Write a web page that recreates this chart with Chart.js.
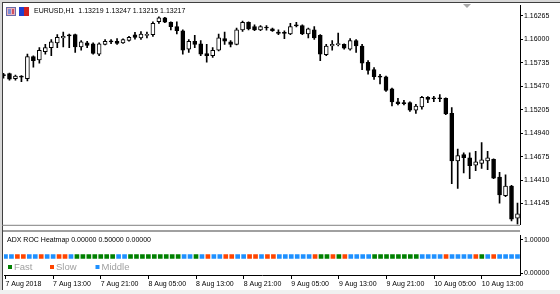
<!DOCTYPE html>
<html>
<head>
<meta charset="utf-8">
<script src="https://cdn.jsdelivr.net/npm/chart.js@4.4.0/dist/chart.umd.min.js"></script>
<style>
  html, body { margin: 0; padding: 0; background: #fff; }
  #wrap { position: relative; width: 560px; height: 294px; overflow: hidden; }
  canvas { position: absolute; left: 0; }
</style>
</head>
<body>
<div id="wrap">
  <canvas id="priceChart" width="560" height="230" style="top:0"></canvas>
  <canvas id="heatChart" width="560" height="64" style="top:230px"></canvas>
</div>
<script>
// EURUSD H1, 87 bars from 7 Aug 2018 05:00
const symbolTitle = 'EURUSD,H1  1.13219 1.13247 1.13215 1.13217';
const heatTitle = 'ADX ROC Heatmap 0.00000 0.50000 0.00000';

const opens = [1.15601,1.15612,1.15555,1.15584,1.15555,1.15804,1.15768,1.15862,1.15906,1.15961,
  1.16016,1.16045,1.16053,1.15914,1.15961,1.15950,1.15833,1.15943,1.15983,1.15979,
  1.15961,1.15987,1.16051,1.16016,1.16045,1.16053,1.16199,1.16243,1.16191,1.16144,
  1.16097,1.15888,1.15979,1.15950,1.15840,1.15815,1.15877,1.16009,1.15972,1.15943,
  1.16108,1.16191,1.16144,1.16108,1.16139,1.16119,1.16082,1.16075,1.16060,1.16158,
  1.16155,1.16060,1.16108,1.16045,1.15826,1.15925,1.15940,1.15943,1.15888,1.15987,
  1.15925,1.15741,1.15658,1.15581,1.15577,1.15441,1.15295,1.15280,1.15284,1.15200,
  1.15236,1.15346,1.15335,1.15335,1.15332,1.15164,1.14626,1.14698,1.14662,1.14577,
  1.14599,1.14626,1.14643,1.14442,1.14234,1.14343,1.13978];
const highs = [1.15617,1.15620,1.15595,1.15590,1.15833,1.15815,1.15906,1.15943,1.15998,1.16053,
  1.16082,1.16060,1.16060,1.15987,1.15979,1.15961,1.15961,1.15998,1.15998,1.16009,
  1.16005,1.16034,1.16078,1.16089,1.16082,1.16199,1.16254,1.16249,1.16199,1.16199,
  1.16108,1.15998,1.16045,1.15987,1.15943,1.15906,1.16060,1.16082,1.15987,1.16126,
  1.16207,1.16199,1.16163,1.16155,1.16155,1.16126,1.16108,1.16097,1.16180,1.16191,
  1.16163,1.16126,1.16144,1.16053,1.15943,1.15987,1.16071,1.15950,1.16009,1.15998,
  1.15943,1.15760,1.15680,1.15606,1.15584,1.15449,1.15332,1.15310,1.15295,1.15266,
  1.15357,1.15354,1.15357,1.15376,1.15339,1.15230,1.14761,1.14717,1.14717,1.14735,
  1.14834,1.14735,1.14651,1.14497,1.14468,1.14351,1.14149];
const lows = [1.15562,1.15540,1.15540,1.15522,1.15529,1.15686,1.15730,1.15833,1.15815,1.15906,
  1.15914,1.15906,1.15851,1.15877,1.15906,1.15833,1.15815,1.15936,1.15950,1.15943,
  1.15954,1.15979,1.16001,1.15998,1.16016,1.16034,1.16180,1.16188,1.16108,1.16060,
  1.15833,1.15851,1.15906,1.15815,1.15741,1.15796,1.15870,1.15943,1.15914,1.15936,
  1.16089,1.16108,1.16097,1.16097,1.16104,1.16089,1.16053,1.16009,1.16053,1.16141,
  1.16053,1.16016,1.15998,1.15760,1.15815,1.15877,1.15925,1.15888,1.15877,1.15851,
  1.15658,1.15606,1.15548,1.15496,1.15412,1.15247,1.15258,1.15258,1.15186,1.15164,
  1.15211,1.15284,1.15295,1.15295,1.15148,1.14369,1.14314,1.14489,1.14424,1.14516,
  1.14541,1.14527,1.14425,1.14149,1.14223,1.13948,1.13912];
const closes = [1.15590,1.15551,1.15584,1.15573,1.15804,1.15760,1.15877,1.15906,1.15972,1.16023,
  1.16034,1.16039,1.15914,1.15972,1.15932,1.15840,1.15950,1.15979,1.15972,1.15954,
  1.15998,1.16023,1.16023,1.16060,1.16056,1.16180,1.16243,1.16194,1.16144,1.16097,
  1.15877,1.15979,1.15943,1.15833,1.15815,1.15877,1.16016,1.15979,1.15943,1.16108,
  1.16191,1.16119,1.16108,1.16144,1.16128,1.16097,1.16067,1.16067,1.16144,1.16152,
  1.16060,1.16119,1.16016,1.15833,1.15925,1.15943,1.15947,1.15899,1.15987,1.15925,
  1.15730,1.15650,1.15577,1.15573,1.15423,1.15293,1.15273,1.15273,1.15200,1.15247,
  1.15346,1.15321,1.15329,1.15329,1.15156,1.14626,1.14687,1.14662,1.14571,1.14615,
  1.14637,1.14662,1.14431,1.14241,1.14343,1.13967,1.14028];

const priceTicks = [1.16265, 1.16000, 1.15735, 1.15470, 1.15205, 1.14940, 1.14675, 1.14410, 1.14145];
const timeLabels = ['7 Aug 2018', '7 Aug 13:00', '7 Aug 21:00', '8 Aug 05:00', '8 Aug 13:00', '8 Aug 21:00',
  '9 Aug 05:00', '9 Aug 13:00', '9 Aug 21:00', '10 Aug 05:00', '10 Aug 13:00'];
const barsPerTimeLabel = 8;

// F = Fast, S = Slow, M = Middle
const heatStates = ['M','M','S','S','M','M','S','M','M','S',
  'S','M','F','F','F','F','F','F','F','M',
  'M','F','F','F','F','F','F','F','F','F',
  'M','M','F','M','S','M','M','S','S','M',
  'M','S','S','M','S','S','M','M','M','M',
  'M','M','S','F','F','S','F','S','M','M',
  'M','M','F','F','F','F','F','F','F','F',
  'M','M','M','M','S','M','M','M','M','S',
  'F','M','S','M','M','M','M'];
const heatLevel = 0.5;
const heatTicks = [0, 1];

Chart.defaults.font.family = "'Liberation Sans', Arial, sans-serif";
Chart.defaults.font.size = 7;
Chart.defaults.color = '#000';

const heatColors = {F: '#008000', S: '#ff4500', M: '#1e90ff'};
const heatNames = {F: 'Fast', S: 'Slow', M: 'Middle'};

const idx = opens.map((_, i) => i);
const xMin = -0.25, xMax = 86.42;

const priceFrame = {
  id: 'priceFrame',
  beforeDraw(chart) {
    const c = chart.ctx;
    c.save();
    c.fillStyle = '#fff';
    c.fillRect(0, 0, chart.width, chart.height);
    c.restore();
  },
  afterDraw(chart) {
    const c = chart.ctx;
    const a = chart.chartArea;
    c.save();
    c.fillStyle = '#d8d8d8';
    c.fillRect(0, 0, chart.width, 2);
    c.fillRect(0, 0, 2, chart.height);
    c.strokeStyle = '#404040';
    c.lineWidth = 1;
    c.beginPath();
    c.moveTo(2.5, 2); c.lineTo(2.5, chart.height);
    c.moveTo(2, 2.5); c.lineTo(chart.width, 2.5);
    c.stroke();
    c.strokeStyle = '#808080';
    c.beginPath();
    c.moveTo(2, a.bottom + 0.5); c.lineTo(a.right, a.bottom + 0.5);
    c.stroke();
    // window icons
    c.fillStyle = '#e6b3bd'; c.fillRect(6, 7, 10, 9);
    c.strokeStyle = '#6a6aa8'; c.strokeRect(6.5, 7.5, 9, 8);
    c.fillStyle = '#7a8fd8'; c.fillRect(8, 9, 3, 5);
    c.fillStyle = '#d05060'; c.fillRect(12, 9, 2, 5);
    c.fillStyle = '#2040d0'; c.fillRect(19, 7, 5, 9);
    c.fillStyle = '#d02020'; c.fillRect(24, 7, 5, 9);
    c.fillStyle = '#000';
    c.font = "7px 'Liberation Sans'";
    c.textBaseline = 'middle';
    c.fillText(symbolTitle, 34, 11);
    c.fillStyle = '#a8a8a8';
    c.beginPath();
    c.moveTo(463, 4); c.lineTo(471, 4); c.lineTo(467, 8); c.closePath();
    c.fill();
    c.restore();
  }
};

new Chart(document.getElementById('priceChart'), {
  type: 'bar',
  data: {
    datasets: [{
      label: 'body',
      data: idx.map(i => ({x: i, y: [opens[i], closes[i]]})),
      backgroundColor: idx.map(i => closes[i] >= opens[i] ? '#ffffff' : '#000000'),
      borderColor: '#000',
      borderWidth: 1,
      borderSkipped: false,
      barThickness: 4,
      minBarLength: 1,
      grouped: false
    }, {
      label: 'wick',
      data: idx.map(i => ({x: i, y: [lows[i], highs[i]]})),
      backgroundColor: '#000',
      barThickness: 1,
      grouped: false
    }]
  },
  options: {
    responsive: false,
    animation: false,
    layout: {padding: {left: 2, top: 3, right: 0, bottom: 1}},
    plugins: {legend: {display: false}, tooltip: {enabled: false}},
    scales: {
      x: {type: 'linear', min: xMin, max: xMax, offset: false, display: false},
      y: {
        position: 'right',
        min: 1.13904,
        max: 1.16386,
        afterFit: s => { s.width = 40; },
        afterBuildTicks: s => { s.ticks = priceTicks.map(v => ({value: v})); },
        ticks: {callback: v => v.toFixed(5), padding: 1},
        grid: {drawOnChartArea: false, tickLength: 3, color: '#000'},
        border: {color: '#000'}
      }
    }
  },
  plugins: [priceFrame]
});

const heatFrame = {
  id: 'heatFrame',
  beforeDraw(chart) {
    const c = chart.ctx;
    c.save();
    c.fillStyle = '#fff';
    c.fillRect(0, 0, chart.width, chart.height);
    c.restore();
  },
  afterDraw(chart) {
    const c = chart.ctx;
    const a = chart.chartArea;
    c.save();
    c.fillStyle = '#d8d8d8';
    c.fillRect(0, 0, 2, chart.height);
    c.fillStyle = '#f0f0f0';
    c.fillRect(0, 60, chart.width, 4);
    c.fillStyle = '#a0a0a0';
    c.fillRect(2, 0, a.right - 2, 2);
    c.strokeStyle = '#404040';
    c.beginPath();
    c.moveTo(2.5, 0); c.lineTo(2.5, 60);
    c.stroke();
    c.fillStyle = '#000';
    c.font = "7px 'Liberation Sans'";
    c.textBaseline = 'middle';
    c.fillText(heatTitle, 7, 10);
    // legend
    c.font = "9.5px 'Liberation Sans'";
    [['F', 8], ['S', 50], ['M', 95.5]].forEach(([k, x]) => {
      c.fillStyle = heatColors[k];
      c.fillRect(x, 35, 4, 4);
      c.fillStyle = '#a0a0a0';
      c.fillText(heatNames[k], x + 6, 37.5);
    });
    c.restore();
  }
};

new Chart(document.getElementById('heatChart'), {
  type: 'line',
  data: {
    datasets: ['F', 'S', 'M'].map(k => ({
      label: heatNames[k],
      data: heatStates.map((s, i) => ({x: i, y: s === k ? heatLevel : null})),
      showLine: false,
      pointStyle: 'rect',
      pointRadius: 3.3,
      pointBorderWidth: 0,
      pointBackgroundColor: heatColors[k]
    }))
  },
  options: {
    responsive: false,
    animation: false,
    layout: {padding: {left: 2, top: 2, right: 0, bottom: 0}},
    plugins: {legend: {display: false}, tooltip: {enabled: false}},
    scales: {
      x: {
        type: 'linear', min: xMin, max: xMax, offset: false,
        afterFit: s => { s.height = 19; },
        afterBuildTicks: s => { s.ticks = timeLabels.map((_, k) => ({value: k * barsPerTimeLabel})); },
        ticks: {autoSkip: false, maxRotation: 0, align: 'start', padding: 1, callback: (v, i) => timeLabels[i]},
        grid: {drawOnChartArea: false, tickLength: 4, color: '#000', offset: false},
        border: {color: '#000'}
      },
      y: {
        position: 'right',
        min: -0.0556,
        max: 1.1389,
        afterFit: s => { s.width = 40; },
        afterBuildTicks: s => { s.ticks = heatTicks.map(v => ({value: v})); },
        ticks: {callback: v => v.toFixed(5), padding: 1},
        grid: {drawOnChartArea: false, tickLength: 3, color: '#000'},
        border: {color: '#000'}
      }
    }
  },
  plugins: [heatFrame]
});
</script>
</body>
</html>
